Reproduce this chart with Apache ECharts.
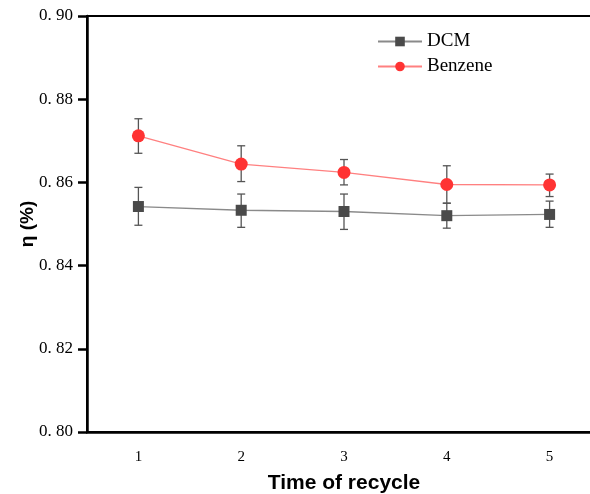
<!DOCTYPE html>
<html>
<head>
    <meta charset="UTF-8">
    <script src="https://cdn.jsdelivr.net/npm/echarts@6/dist/echarts.min.js"></script>
    <title>recycle</title>
</head>
<body style="margin:0">
<div id="main" style="width:590px;height:494px"></div>
<script type="text/javascript">
    // data
    var cycles = ['1', '2', '3', '4', '5'];
    var dcm = [0.8542, 0.8533, 0.8530, 0.8520, 0.8523];
    var dcmErrUp = [0.0046, 0.0039, 0.0042, 0.0030, 0.0032];
    var dcmErrDown = [0.0045, 0.0041, 0.0043, 0.0030, 0.0031];
    var benzene = [0.8712, 0.8644, 0.8624, 0.8595, 0.8594];
    var benzeneErrUp = [0.0041, 0.0044, 0.0031, 0.0045, 0.0026];
    var benzeneErrDown = [0.0042, 0.0042, 0.0030, 0.0045, 0.0028];

    function errData(vals, up, down) {
        var out = [];
        for (var i = 0; i < vals.length; i++) {
            out.push([i, vals[i] - down[i], vals[i] + up[i]]);
        }
        return out;
    }

    function errBar(params, api) {
        var lo = api.coord([api.value(0), api.value(1)]);
        var hi = api.coord([api.value(0), api.value(2)]);
        var w = 4;
        var st = {stroke: '#555', lineWidth: 1.3};
        return {
            type: 'group',
            children: [
                {type: 'line', shape: {x1: hi[0], y1: hi[1], x2: lo[0], y2: lo[1]}, style: st},
                {type: 'line', shape: {x1: hi[0] - w, y1: hi[1], x2: hi[0] + w, y2: hi[1]}, style: st},
                {type: 'line', shape: {x1: lo[0] - w, y1: lo[1], x2: lo[0] + w, y2: lo[1]}, style: st}
            ]
        };
    }

    var myChart = echarts.init(document.getElementById('main'));
    myChart.setOption({
        animation: false,
        grid: {
            left: 87, top: 16, bottom: 62, right: -11,
            outerBoundsMode: 'none', containLabel: false,
            show: true, borderColor: '#000', borderWidth: 2
        },
        legend: {
            data: ['DCM', 'Benzene'],
            orient: 'vertical',
            left: 372,
            top: 27,
            itemWidth: 44,
            itemHeight: 12,
            itemGap: 6,
            textStyle: {fontFamily: 'Liberation Serif', fontSize: 19, color: '#000'}
        },
        xAxis: {
            type: 'category',
            data: cycles,
            name: 'Time of recycle',
            nameLocation: 'middle',
            nameGap: 41,
            nameMoveOverlap: false,
            nameTextStyle: {fontFamily: 'Liberation Sans', fontWeight: 'bold', fontSize: 21, color: '#000'},
            axisLine: {lineStyle: {color: '#000', width: 2.5}},
            axisTick: {alignWithLabel: true, length: 7, lineStyle: {color: '#000', width: 2.5}},
            axisLabel: {fontFamily: 'Liberation Serif', fontSize: 15, color: '#000', margin: 18},
            splitLine: {show: false}
        },
        yAxis: {
            type: 'value',
            min: 0.80,
            max: 0.90,
            interval: 0.02,
            name: 'η (%)',
            nameLocation: 'middle',
            nameGap: 50,
            nameMoveOverlap: false,
            nameTextStyle: {fontFamily: 'Liberation Sans', fontWeight: 'bold', fontSize: 19, color: '#000'},
            axisLine: {show: true, lineStyle: {color: '#000', width: 2.5}},
            axisTick: {show: true, length: 9, lineStyle: {color: '#000', width: 2.5}},
            axisLabel: {
                fontFamily: 'Liberation Serif', fontSize: 17, color: '#000', margin: 14,
                formatter: function (v) { return v.toFixed(2).replace('.', '. '); }
            },
            splitLine: {show: false}
        },
        series: [
            {
                name: 'DCM-err', type: 'custom', renderItem: errBar, z: 1,
                data: errData(dcm, dcmErrUp, dcmErrDown), encode: {x: 0, y: [1, 2]}
            },
            {
                name: 'Benzene-err', type: 'custom', renderItem: errBar, z: 1,
                data: errData(benzene, benzeneErrUp, benzeneErrDown), encode: {x: 0, y: [1, 2]}
            },
            {
                name: 'DCM', type: 'line', data: dcm, z: 3,
                symbol: 'rect', symbolSize: 11,
                itemStyle: {color: '#4a4a4a'},
                lineStyle: {color: '#8a8a8a', width: 1.3}
            },
            {
                name: 'Benzene', type: 'line', data: benzene, z: 3,
                symbol: 'circle', symbolSize: 13,
                itemStyle: {color: '#ff3333'},
                lineStyle: {color: '#ff8080', width: 1.3}
            }
        ]
    });
</script>
</body>
</html>
